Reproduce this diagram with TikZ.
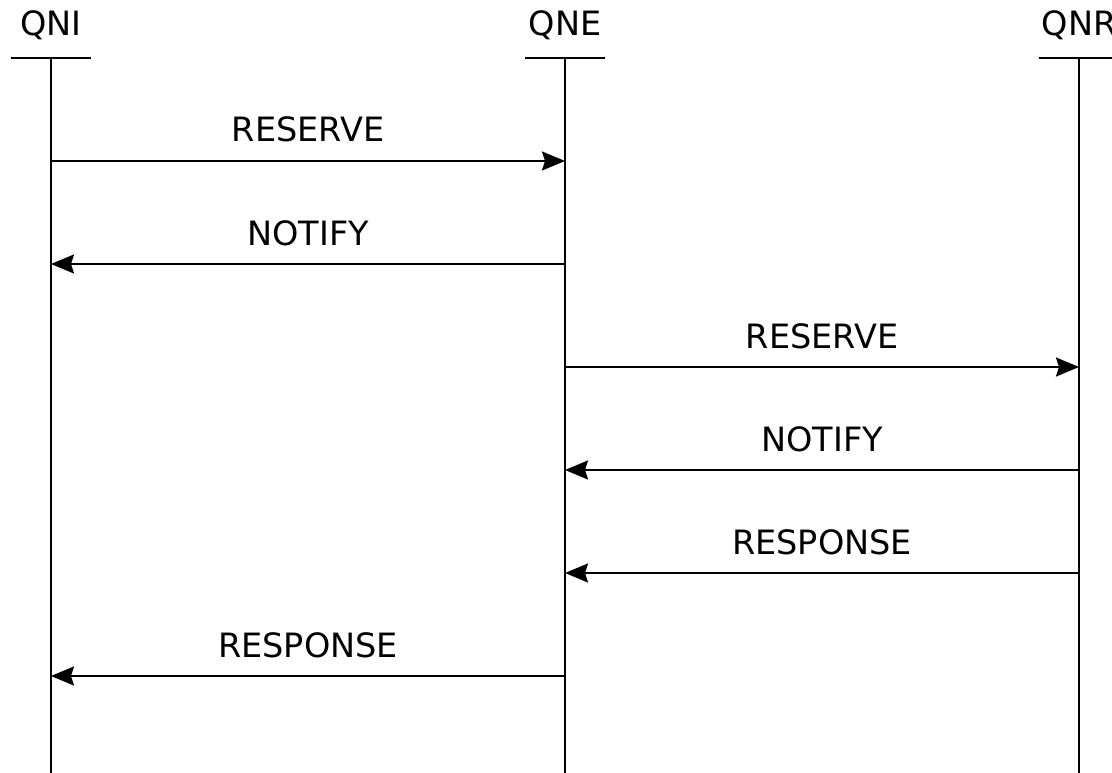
\documentclass[tikz,border=0pt]{standalone}
\usepackage{fontspec}
\setmainfont{DejaVu Sans}
\usetikzlibrary{arrows.meta}
\begin{document}
\begin{tikzpicture}[x=1pt,y=-1pt,
  life/.style={line width=2pt},
  headbar/.style={line width=2pt},
  msg/.style={line width=2pt,-{Stealth[length=23pt,width=19pt,inset=3pt]}},
  lbl/.style={font=\fontsize{33.5}{38}\selectfont,inner sep=0pt,anchor=base,yshift=19pt},
  lifename/.style={font=\fontsize{33.5}{38}\selectfont,inner sep=0pt,anchor=base}]
\useasboundingbox (0,0) rectangle (1112,773);
\clip (0,0) rectangle (1112,773);
% lifelines
\foreach \n/\x/\t in {I/51/QNI, E/565/QNE, R/1079/QNR}{
  \node[lifename] (t\n) at (\x,36) {\t};
  \coordinate (top\n) at (\x,58);
  \coordinate (bot\n) at (\x,773);
  \draw[headbar] (\x-40,58) -- (\x+40,58);
  \draw[life] (top\n) -- (bot\n);
}
% message anchors
\foreach \i/\y in {1/161,2/264,3/367,4/470,5/573,6/676}{
  \coordinate (I\i) at (51,\y);
  \coordinate (E\i) at (565,\y);
  \coordinate (R\i) at (1079,\y);
}
\draw[msg] (I1) -- node[lbl] {RESERVE} (E1);
\draw[msg] (E2) -- node[lbl] {NOTIFY} (I2);
\draw[msg] (E3) -- node[lbl] {RESERVE} (R3);
\draw[msg] (R4) -- node[lbl] {NOTIFY} (E4);
\draw[msg] (R5) -- node[lbl] {RESPONSE} (E5);
\draw[msg] (E6) -- node[lbl] {RESPONSE} (I6);
\end{tikzpicture}
\end{document}
